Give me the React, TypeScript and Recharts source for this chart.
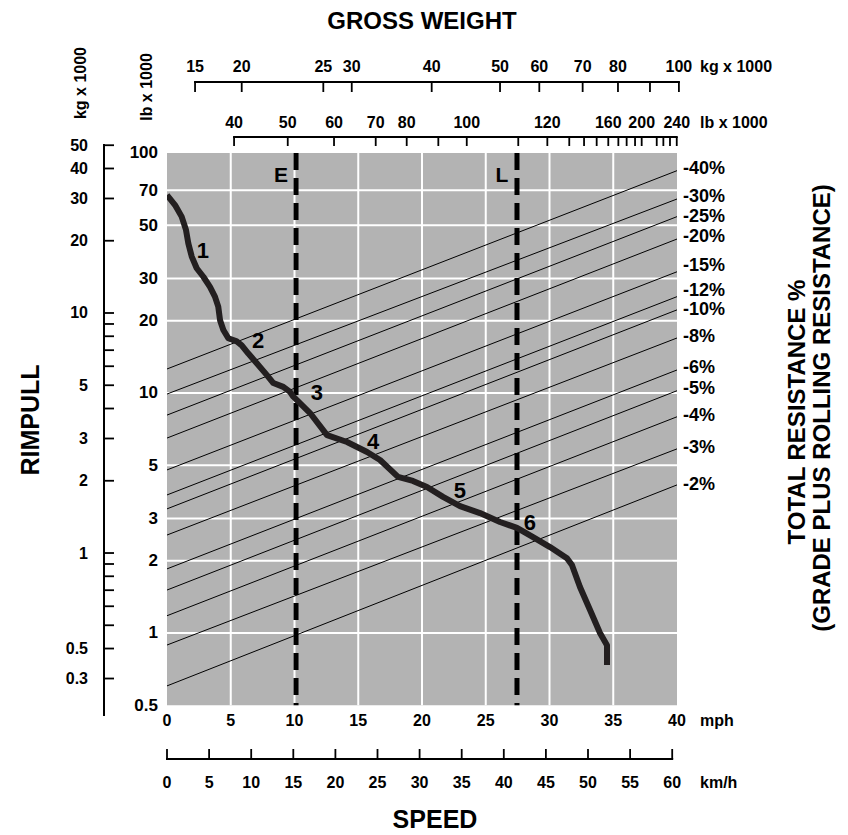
import React from 'react';
import {
  ComposedChart,
  Line,
  XAxis,
  YAxis,
  ReferenceArea,
  ReferenceLine,
  ReferenceDot,
  Label,
} from 'recharts';

const FONT = '"Liberation Sans", Arial, Helvetica, sans-serif';
const GRAY = '#b3b3b3';
const INK = '#231f20';

// ---------- layout ----------
const CHART_W = 840;
const CHART_H = 827;
const MARGIN = { top: 41, right: 0, bottom: 39, left: 46 };
const PLOT_W = 510;

// axis ids (stacked axes are laid out in id order, first id next to the plot)
const X_MPH = 'aMph';
const X_KMH = 'bKmh';
const X_GW_LB = 'aGwLb';
const X_GW_KG = 'bGwKg';
const Y_LB = 'aLb';
const Y_KG = 'bKg';
const Y_GRADE = 'grade';

// ---------- speed axes ----------
const mphDomain: [number, number] = [0, 40];
const mphTicks = [0, 5, 10, 15, 20, 25, 30, 35, 40];
const kmhDomain: [number, number] = [0, 60.57];
const kmhTicks = [0, 5, 10, 15, 20, 25, 30, 35, 40, 45, 50, 55, 60];
const speedGrid = [5, 10, 15, 20, 25, 30, 35];

// ---------- rimpull axes ----------
const lbDomain: [number, number] = [0.451, 109.0];
const lbTicks = [100, 70, 50, 30, 20, 10, 5, 3, 2, 1, 0.5];
const rimpullGrid = [70, 50, 30, 20, 10, 5, 3, 2, 1];
const rimpullTop = 100;
const rimpullBottom = 0.5;

const kgDomain: [number, number] = [0.2094, 50.59];
const kgTicks = [50, 40, 30, 20, 10, 9, 8, 7, 6, 5, 4, 3, 2, 1, 0.9, 0.8, 0.7, 0.6, 0.5, 0.4, 0.3];
const kgTickLabels = ['50', '40', '30', '20', '10', '', '', '', '', '5', '', '3', '2', '1', '', '', '', '', '', '0.5', '0.3'];

// ---------- gross weight axes (position expressed on the speed scale) ----------
const gwKgPos = [2.2, 5.86, 12.26, 14.49, 20.76, 26.12, 29.2, 32.6, 35.37, 37.88, 40.15];
const gwKgLabels = ['15', '20', '25', '30', '40', '50', '60', '70', '80', '', '100'];
const gwLbPos = [5.26, 9.47, 13.1, 16.37, 18.8, 21.28, 23.51, 27.55, 29.83, 31.55, 32.71, 33.7, 34.61, 35.4, 36.05, 36.71, 37.23, 38.41, 38.93, 39.45, 39.98];
const gwLbLabels = ['40', '50', '60', '70', '80', '', '100', '', '120', '', '', '', '160', '', '', '', '200', '', '', '', '240'];

// ---------- total resistance lines ----------
const gradeNames = ['-40%', '-30%', '-25%', '-20%', '-15%', '-12%', '-10%', '-8%', '-6%', '-5%', '-4%', '-3%', '-2%'];
const gradeStartRimpull = [12.59, 9.9, 8.09, 6.49, 4.78, 3.76, 3.29, 2.56, 1.85, 1.51, 1.18, 0.891, 0.602];
const gradeEndRimpull = [84.4, 64.3, 54.3, 43.8, 32.0, 25.2, 22.2, 16.95, 12.47, 10.22, 7.96, 5.85, 4.14];
const gradeLabelRimpull = [86.6, 66.2, 54.6, 45.1, 34.1, 26.8, 22.3, 17.3, 12.8, 10.5, 8.09, 5.93, 4.18];

// ---------- rimpull curve ----------
const curveSpeed = [0, 0.63, 1.15, 1.49, 1.67, 1.94, 2.33, 2.85, 3.37, 3.76, 4.02, 4.16, 4.42, 4.81, 5.47, 5.86, 6.38, 7.04, 7.82, 8.34, 9.12, 9.65, 9.91, 11.22, 12.55, 14.12, 15.69, 16.71, 18.12, 19.29, 20.39, 21.65, 22.98, 24.55, 26.12, 27.45, 28.71, 30.04, 31.37, 31.76, 32.39, 33.18, 33.96, 34.51, 34.51];
const curveRimpull = [66.8, 60.7, 54.3, 47.8, 42.1, 37.0, 33.1, 30.5, 27.7, 25.2, 22.9, 20.1, 18.3, 16.9, 16.4, 15.8, 14.6, 13.3, 11.9, 11.0, 10.6, 10.1, 9.65, 8.25, 6.68, 6.25, 5.68, 5.26, 4.47, 4.3, 4.06, 3.69, 3.38, 3.16, 2.9, 2.74, 2.51, 2.28, 2.05, 1.92, 1.555, 1.247, 1.0, 0.89, 0.735];

const gearNames = ['1', '2', '3', '4', '5', '6'];
const gearSpeed = [2.82, 7.14, 11.76, 16.16, 22.98, 28.47];
const gearRimpull = [39.4, 16.6, 10.0, 6.25, 3.94, 2.9];

// ---------- range markers ----------
const markerNames = ['E', 'L'];
const markerSpeed = [10.12, 27.45];

const T = ({ x, y, children, size = 16, anchor = 'middle', rotate = false }: any) => (
  <text
    x={x}
    y={y}
    fontFamily={FONT}
    fontWeight={700}
    fontSize={size}
    fill="#000"
    textAnchor={anchor}
    dominantBaseline="central"
    transform={rotate ? `rotate(-90 ${x} ${y})` : undefined}
  >
    {children}
  </text>
);

type LabelItem = { text: string; dx: number; dy: number; size: number; anchor?: string; rotate?: boolean; fromRight?: boolean };
const boxLabel = (items: LabelItem[]) => (props: any) => {
  const vb = props.viewBox || { x: 0, y: 0, width: 0, height: 0 };
  return (
    <g>
      {items.map((it, k) => {
        const bx = it.fromRight ? vb.x + vb.width : vb.x;
        return (
          <T key={k} x={bx + it.dx} y={vb.y + it.dy} size={it.size} anchor={it.anchor || 'middle'} rotate={it.rotate}>
            {it.text}
          </T>
        );
      })}
    </g>
  );
};

// custom tick for hand-drawn axes with a ruled line between ticks
const makeRuledTick = (
  values: number[],
  labels: string[],
  pxPerUnit: number,
  lineDy: number,
  tickLen: number,
  labelDy: number,
  fontSize: number
) => (props: any) => {
  const { x, y, payload } = props;
  const i = values.indexOf(payload.value);
  const ly = y + lineDy;
  const prev = i > 0 ? values[i - 1] : null;
  return (
    <g>
      {prev !== null && (
        <line x1={x + (prev - payload.value) * pxPerUnit} x2={x} y1={ly} y2={ly} stroke="#000" strokeWidth={2} strokeLinecap="square" />
      )}
      <line x1={x} x2={x} y1={ly} y2={ly + tickLen} stroke="#000" strokeWidth={1.8} />
      {labels[i] ? <T x={x} y={y + labelDy} size={fontSize}>{labels[i]}</T> : null}
    </g>
  );
};

const kgWeightTick = makeRuledTick(gwKgPos, gwKgLabels, PLOT_W / (mphDomain[1] - mphDomain[0]), -22, 10, -38, 16);
const lbWeightTick = makeRuledTick(gwLbPos, gwLbLabels, PLOT_W / (mphDomain[1] - mphDomain[0]), -7, 9, -22, 16);
const kmhTick = makeRuledTick(kmhTicks, kmhTicks.map(String), PLOT_W / (kmhDomain[1] - kmhDomain[0]), 13, -10, 36.5, 16);

const mphTick = (props: any) => <T x={props.x} y={props.y + 4} size={16}>{String(props.payload.value)}</T>;
const lbRimpullTick = (props: any) => (
  <T x={props.x - 9} y={props.y} size={17} anchor="end">{String(props.payload.value)}</T>
);
const kgRimpullTick = (props: any) => {
  const { x, y, payload } = props;
  const i = kgTicks.indexOf(payload.value);
  return (
    <g>
      <line x1={x} x2={x + 10} y1={y} y2={y} stroke="#000" strokeWidth={1.8} />
      {kgTickLabels[i] ? <T x={x - 16} y={y} size={16} anchor="end">{kgTickLabels[i]}</T> : null}
    </g>
  );
};
const gradeTick = (props: any) => {
  const i = gradeLabelRimpull.indexOf(props.payload.value);
  return <T x={props.x + 6} y={props.y} size={18} anchor="start">{gradeNames[i]}</T>;
};

export default function App() {
  const curveData = curveSpeed.map((x, i) => ({ x, y: curveRimpull[i] }));
  const gradeData = gradeNames.map((_, i) => [
    { x: mphDomain[0], y: gradeStartRimpull[i] },
    { x: mphDomain[1], y: gradeEndRimpull[i] },
  ]);
  // invisible anchors so that the secondary axes have values attached
  const kmhAnchor = kmhTicks.map((v) => ({ x: v, y: rimpullBottom }));
  const gwKgAnchor = gwKgPos.map((v) => ({ x: v, y: rimpullBottom }));
  const gwLbAnchor = gwLbPos.map((v) => ({ x: v, y: rimpullBottom }));

  const axisCommon = {
    type: 'number' as const,
    dataKey: 'x',
    allowDataOverflow: true,
    interval: 0 as const,
    tickSize: 0,
    tickMargin: 0,
    axisLine: false,
    tickLine: false,
  };

  return (
    <div style={{ width: CHART_W, height: CHART_H, fontFamily: FONT }}>
      <ComposedChart width={CHART_W} height={CHART_H} margin={MARGIN}>
        {/* bottom axes */}
        <XAxis xAxisId={X_MPH} orientation="bottom" domain={mphDomain} ticks={mphTicks} height={30} tick={mphTick} {...axisCommon}>
          <Label content={boxLabel([{ text: 'mph', dx: 23, dy: 4, size: 16, anchor: 'start', fromRight: true }])} />
        </XAxis>
        <XAxis xAxisId={X_KMH} orientation="bottom" domain={kmhDomain} ticks={kmhTicks} height={50} tick={kmhTick} {...axisCommon}>
          <Label
            content={boxLabel([
              { text: 'km/h', dx: 23, dy: 36.5, size: 16, anchor: 'start', fromRight: true },
              { text: 'SPEED', dx: 268, dy: 73, size: 25 },
            ])}
          />
        </XAxis>

        {/* top axes: gross weight */}
        <XAxis xAxisId={X_GW_LB} orientation="top" domain={mphDomain} ticks={gwLbPos} height={40} tick={lbWeightTick} {...axisCommon}>
          <Label content={boxLabel([{ text: 'lb x 1000', dx: 23, dy: 18, size: 16, anchor: 'start', fromRight: true }])} />
        </XAxis>
        <XAxis xAxisId={X_GW_KG} orientation="top" domain={mphDomain} ticks={gwKgPos} height={55} tick={kgWeightTick} {...axisCommon}>
          <Label
            content={boxLabel([
              { text: 'kg x 1000', dx: 23, dy: 17, size: 16, anchor: 'start', fromRight: true },
              { text: 'GROSS WEIGHT', dx: 255, dy: -29, size: 24 },
            ])}
          />
        </XAxis>

        {/* left axes: rimpull */}
        <YAxis
          yAxisId={Y_LB}
          type="number"
          scale="log"
          domain={lbDomain}
          allowDataOverflow
          ticks={lbTicks}
          interval={0}
          width={63}
          tickSize={0}
          tickMargin={0}
          axisLine={false}
          tickLine={false}
          tick={lbRimpullTick}
        >
          <Label content={boxLabel([{ text: 'lb x 1000', dx: 42, dy: -57, size: 16, rotate: true }])} />
        </YAxis>
        <YAxis
          yAxisId={Y_KG}
          type="number"
          scale="log"
          domain={kgDomain}
          allowDataOverflow
          ticks={kgTicks}
          interval={0}
          width={50}
          tickSize={0}
          tickMargin={0}
          axisLine={{ stroke: '#000', strokeWidth: 2 }}
          tickLine={false}
          tick={kgRimpullTick}
        >
          <Label
            content={boxLabel([
              { text: 'kg x 1000', dx: 26, dy: -61, size: 16, rotate: true },
              { text: 'RIMPULL', dx: -24, dy: 276, size: 25, rotate: true },
            ])}
          />
        </YAxis>

        {/* right axis: total resistance labels */}
        <YAxis
          yAxisId={Y_GRADE}
          orientation="right"
          type="number"
          scale="log"
          domain={lbDomain}
          allowDataOverflow
          ticks={gradeLabelRimpull}
          interval={0}
          width={171}
          tickSize={0}
          tickMargin={0}
          axisLine={false}
          tickLine={false}
          tick={gradeTick}
        >
          <Label
            content={boxLabel([
              { text: 'TOTAL RESISTANCE %', dx: 119, dy: 268, size: 24, rotate: true },
              { text: '(GRADE PLUS ROLLING RESISTANCE)', dx: 144, dy: 264, size: 24, rotate: true },
            ])}
          />
        </YAxis>

        {/* gray chart field */}
        <ReferenceArea
          xAxisId={X_MPH}
          yAxisId={Y_LB}
          x1={mphDomain[0]}
          x2={mphDomain[1]}
          y1={rimpullBottom}
          y2={rimpullTop}
          fill={GRAY}
          fillOpacity={1}
          stroke="none"
        />
        {speedGrid.map((s) => (
          <ReferenceLine
            key={'vs' + s}
            xAxisId={X_MPH}
            yAxisId={Y_LB}
            segment={[{ x: s, y: rimpullBottom }, { x: s, y: rimpullTop }]}
            stroke="#ffffff"
            strokeWidth={2}
          />
        ))}
        {rimpullGrid.map((r) => (
          <ReferenceLine key={'hr' + r} xAxisId={X_MPH} yAxisId={Y_LB} y={r} stroke="#ffffff" strokeWidth={2} />
        ))}

        {/* invisible anchors for the secondary horizontal axes */}
        <Line xAxisId={X_KMH} yAxisId={Y_LB} data={kmhAnchor} dataKey="y" stroke="none" dot={false} activeDot={false} isAnimationActive={false} />
        <Line xAxisId={X_GW_KG} yAxisId={Y_LB} data={gwKgAnchor} dataKey="y" stroke="none" dot={false} activeDot={false} isAnimationActive={false} />
        <Line xAxisId={X_GW_LB} yAxisId={Y_LB} data={gwLbAnchor} dataKey="y" stroke="none" dot={false} activeDot={false} isAnimationActive={false} />

        {/* total resistance lines */}
        {gradeData.map((d, i) => (
          <Line
            key={gradeNames[i]}
            xAxisId={X_MPH}
            yAxisId={Y_LB}
            data={d}
            dataKey="y"
            type="linear"
            stroke="#000"
            strokeWidth={1}
            dot={false}
            activeDot={false}
            isAnimationActive={false}
          />
        ))}

        {/* E / L markers */}
        {markerNames.map((m, i) => (
          <ReferenceLine
            key={m}
            xAxisId={X_MPH}
            yAxisId={Y_LB}
            segment={[{ x: markerSpeed[i], y: rimpullTop }, { x: markerSpeed[i], y: rimpullBottom }]}
            stroke="#000"
            strokeWidth={5}
            strokeDasharray="17 8"
          />
        ))}
        {markerNames.map((m, i) => (
          <ReferenceDot
            key={'lbl' + m}
            xAxisId={X_MPH}
            yAxisId={Y_LB}
            x={markerSpeed[i]}
            y={rimpullTop}
            r={0.5}
            fill="none"
            stroke="none"
            label={<Label content={(p: any) => <T x={p.viewBox.x + p.viewBox.width / 2 - 15} y={p.viewBox.y + p.viewBox.height / 2 + 22} size={21}>{m}</T>} />}
          />
        ))}

        {/* rimpull curve */}
        <Line
          xAxisId={X_MPH}
          yAxisId={Y_LB}
          data={curveData}
          dataKey="y"
          type="linear"
          stroke={INK}
          strokeWidth={6}
          strokeLinejoin="round"
          dot={false}
          activeDot={false}
          isAnimationActive={false}
        />
        {gearNames.map((g, i) => (
          <ReferenceDot
            key={'g' + g}
            xAxisId={X_MPH}
            yAxisId={Y_LB}
            x={gearSpeed[i]}
            y={gearRimpull[i]}
            r={0.5}
            fill="none"
            stroke="none"
            label={<Label content={(p: any) => <T x={p.viewBox.x + p.viewBox.width / 2} y={p.viewBox.y + p.viewBox.height / 2} size={22}>{g}</T>} />}
          />
        ))}
      </ComposedChart>
    </div>
  );
}
